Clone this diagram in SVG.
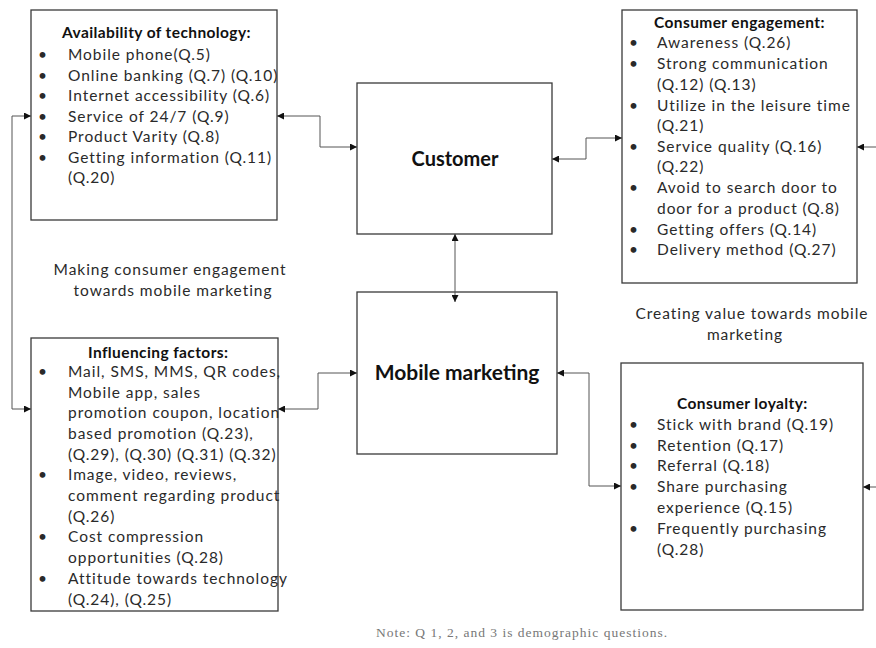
<svg xmlns="http://www.w3.org/2000/svg" width="876" height="648" viewBox="0 0 876 648">
<defs>
<marker id="ah" viewBox="0 0 10 10" refX="10" refY="5" markerWidth="7" markerHeight="7" markerUnits="userSpaceOnUse" orient="auto-start-reverse">
<path d="M0,0 L10,5 L0,10 z" fill="#111"/>
</marker>
<style>
.box{fill:#fff;stroke:#3a3a3a;stroke-width:1.3}
.t{font-family:Lato,"Liberation Sans",sans-serif;font-size:15.5px;letter-spacing:0.95px;fill:#2a2a2a}
.b{font-family:Lato,"Liberation Sans",sans-serif;font-size:15.5px;fill:#2a2a2a}
.h{font-family:Lato,"Liberation Sans",sans-serif;font-size:15.5px;letter-spacing:0.4px;font-weight:bold;fill:#111}
.big{font-family:Lato,"Liberation Sans",sans-serif;font-weight:bold;fill:#111;text-anchor:middle}
.c{fill:none;stroke:#555;stroke-width:1}
.note{font-family:"Liberation Serif",serif;font-size:13.5px;letter-spacing:1px;fill:#777;text-anchor:middle}
</style>
</defs>
<rect width="876" height="648" fill="#fff"/>

<g id="availability">
<rect class="box" x="31" y="10" width="246" height="210"/>
<text class="h" x="62" y="38">Availability of technology:</text>
<g class="b">
<text x="38" y="60">•</text><text x="38" y="81">•</text><text x="38" y="101">•</text><text x="38" y="122">•</text><text x="38" y="142">•</text><text x="38" y="163">•</text>
</g>
<g class="t">
<text x="68" y="60">Mobile phone(Q.5)</text>
<text x="68" y="81">Online banking (Q.7) (Q.10)</text>
<text x="68" y="101">Internet accessibility (Q.6)</text>
<text x="68" y="122">Service of 24/7 (Q.9)</text>
<text x="68" y="142">Product Varity (Q.8)</text>
<text x="68" y="163">Getting information (Q.11)</text>
<text x="68" y="183">(Q.20)</text>
</g>
</g>

<g id="customer">
<rect class="box" x="357" y="83" width="195" height="151"/>
<text class="big" x="455" y="166" font-size="20">Customer</text>
</g>

<g id="engagement">
<rect class="box" x="622" y="10" width="235" height="273"/>
<text class="h" x="654" y="28">Consumer engagement:</text>
<g class="b">
<text x="629" y="48">•</text><text x="629" y="69">•</text><text x="629" y="111">•</text><text x="629" y="152">•</text><text x="629" y="193">•</text><text x="629" y="235">•</text><text x="629" y="255">•</text>
</g>
<g class="t">
<text x="657" y="48">Awareness (Q.26)</text>
<text x="657" y="69">Strong communication</text>
<text x="657" y="90">(Q.12) (Q.13)</text>
<text x="657" y="111">Utilize in the leisure time</text>
<text x="657" y="131">(Q.21)</text>
<text x="657" y="152">Service quality (Q.16)</text>
<text x="657" y="172">(Q.22)</text>
<text x="657" y="193">Avoid to search door to</text>
<text x="657" y="214">door for a product (Q.8)</text>
<text x="657" y="235">Getting offers (Q.14)</text>
<text x="657" y="255">Delivery method (Q.27)</text>
</g>
</g>

<g id="mobile-marketing">
<rect class="box" x="357" y="292" width="200" height="162"/>
<text class="big" x="457" y="380" font-size="21">Mobile marketing</text>
</g>

<g id="influencing">
<rect class="box" x="31" y="338" width="247" height="273"/>
<text class="h" x="88" y="358">Influencing factors:</text>
<g class="b">
<text x="38" y="377">•</text><text x="38" y="480">•</text><text x="38" y="542">•</text><text x="38" y="584">•</text>
</g>
<g class="t">
<text x="68" y="377">Mail, SMS, MMS, QR codes,</text>
<text x="68" y="398">Mobile app, sales</text>
<text x="68" y="418">promotion coupon, location</text>
<text x="68" y="439">based promotion (Q.23),</text>
<text x="68" y="460">(Q.29), (Q.30) (Q.31) (Q.32)</text>
<text x="68" y="480">Image, video, reviews,</text>
<text x="68" y="501">comment regarding product</text>
<text x="68" y="522">(Q.26)</text>
<text x="68" y="542">Cost compression</text>
<text x="68" y="563">opportunities (Q.28)</text>
<text x="68" y="584">Attitude towards technology</text>
<text x="68" y="605">(Q.24), (Q.25)</text>
</g>
</g>

<g id="loyalty">
<rect class="box" x="621" y="363" width="242" height="247"/>
<text class="h" x="677" y="409">Consumer loyalty:</text>
<g class="b">
<text x="629" y="430">•</text><text x="629" y="451">•</text><text x="629" y="471">•</text><text x="629" y="492">•</text><text x="629" y="534">•</text>
</g>
<g class="t">
<text x="657" y="430">Stick with brand (Q.19)</text>
<text x="657" y="451">Retention (Q.17)</text>
<text x="657" y="471">Referral (Q.18)</text>
<text x="657" y="492">Share purchasing</text>
<text x="657" y="513">experience (Q.15)</text>
<text x="657" y="534">Frequently purchasing</text>
<text x="657" y="555">(Q.28)</text>
</g>
</g>

<g id="labels" class="t" text-anchor="middle">
<text x="170" y="275">Making consumer engagement</text>
<text x="173" y="296">towards mobile marketing</text>
<text x="752" y="319">Creating value towards mobile</text>
<text x="745" y="340">marketing</text>
</g>

<text class="note" x="522" y="637">Note: Q 1, 2,  and 3 is demographic questions.</text>

<g id="connectors">
<path class="c" d="M31,116 H12 V409 H31" marker-start="url(#ah)" marker-end="url(#ah)"/>
<path class="c" d="M277,116 H320 V147 H357" marker-start="url(#ah)" marker-end="url(#ah)"/>
<path class="c" d="M455,234 V302" marker-start="url(#ah)" marker-end="url(#ah)"/>
<path class="c" d="M552,159 H586 V138 H622" marker-start="url(#ah)" marker-end="url(#ah)"/>
<path class="c" d="M278,409 H318 V373 H357" marker-start="url(#ah)" marker-end="url(#ah)"/>
<path class="c" d="M557,373 H589 V486 H621" marker-start="url(#ah)" marker-end="url(#ah)"/>
<path class="c" d="M876,147 H857" marker-end="url(#ah)"/>
<path class="c" d="M876,487 H863" marker-end="url(#ah)"/>
</g>
</svg>
